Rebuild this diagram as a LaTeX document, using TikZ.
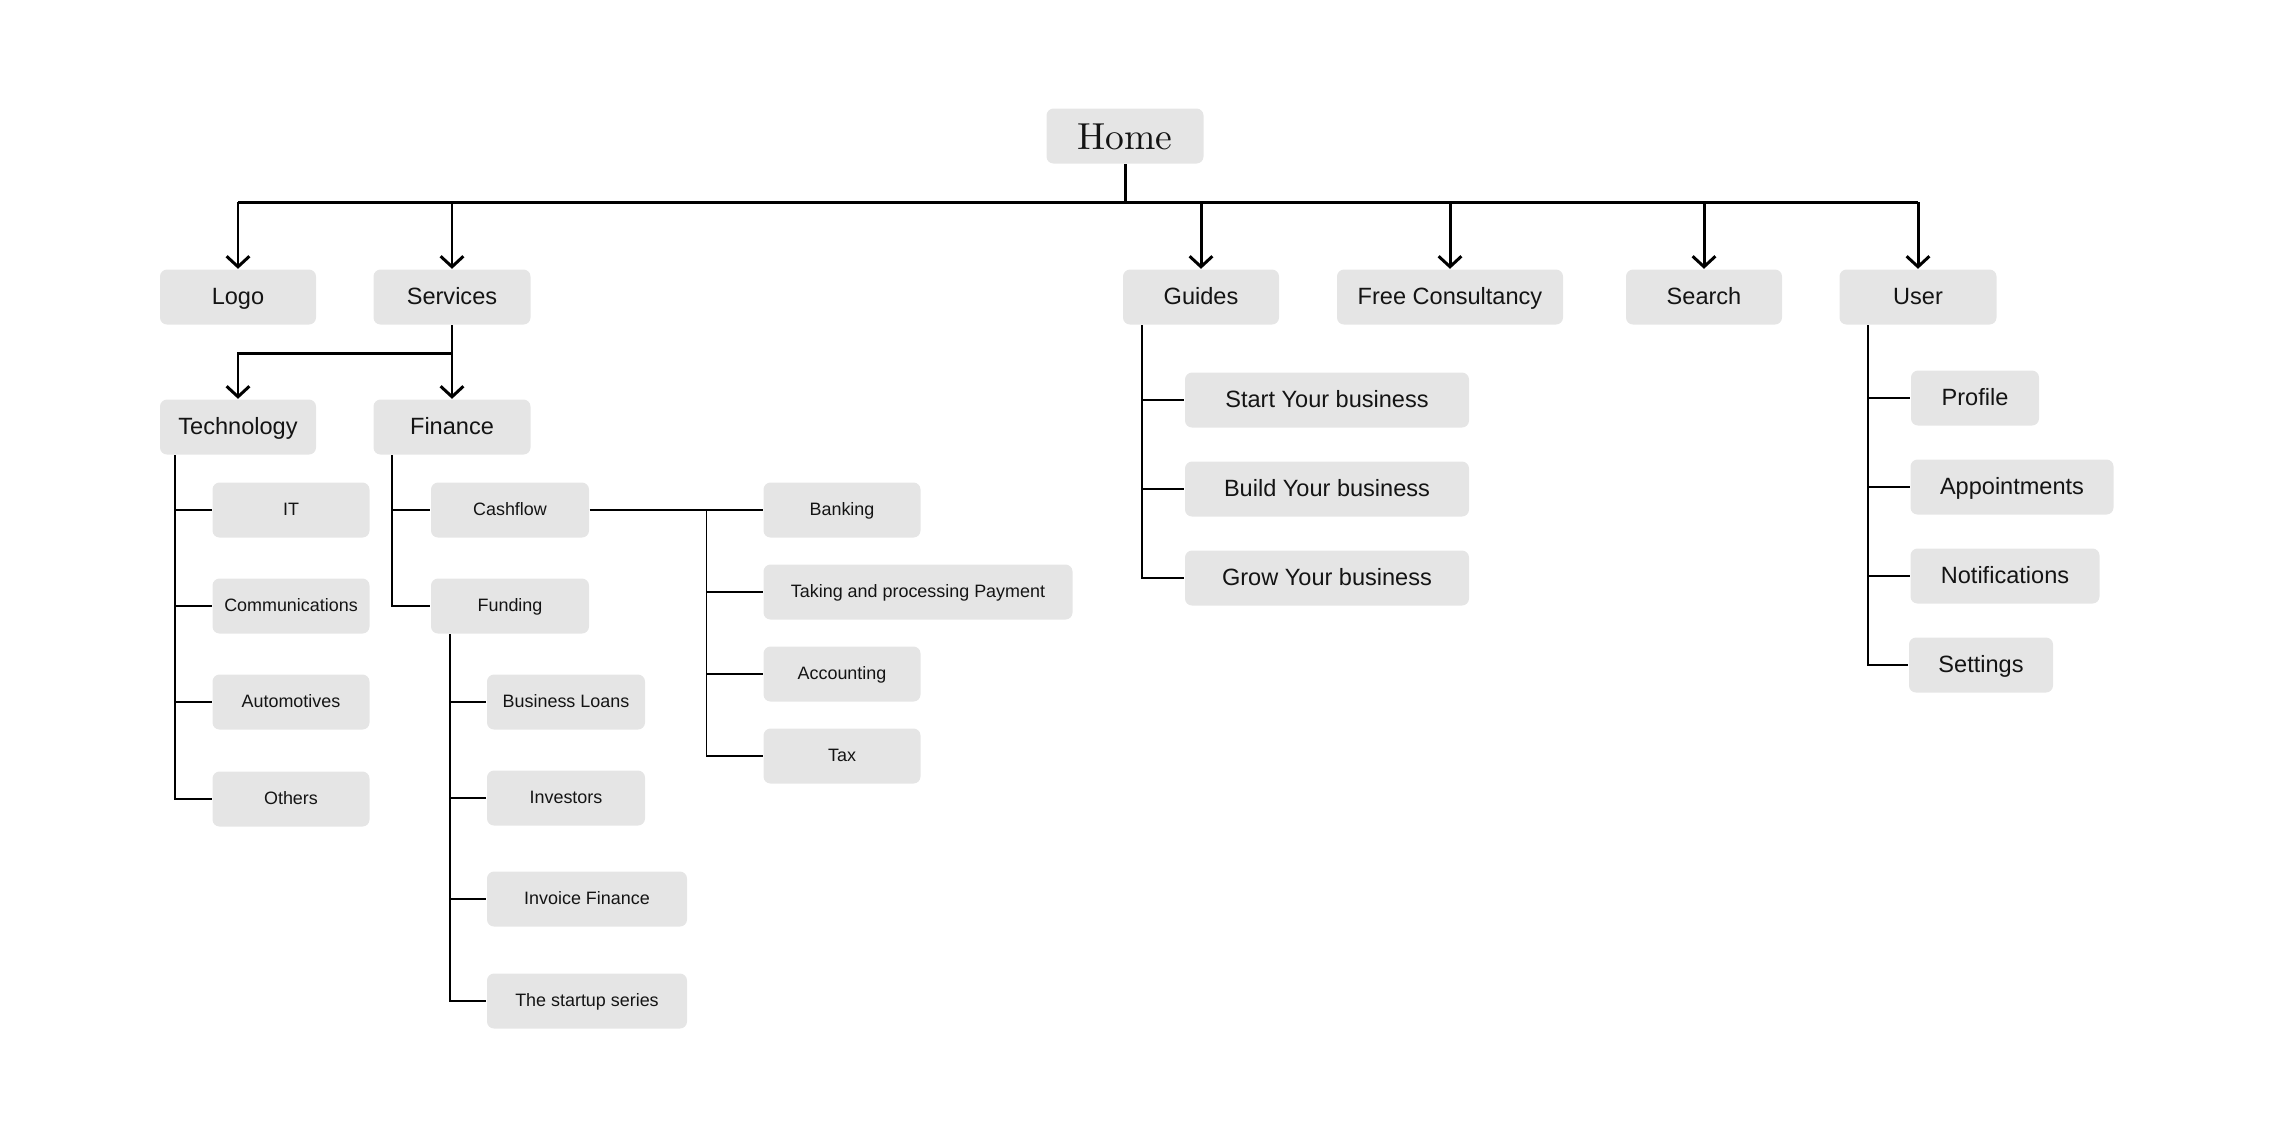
\documentclass[tikz,border=0pt]{standalone}
\usepackage{fontspec}
\setsansfont{Liberation Sans}
\usepackage{tikz}
\usetikzlibrary{arrows.meta}
\definecolor{boxgray}{RGB}{229,229,229}
\definecolor{ink}{RGB}{20,20,20}

\begin{document}
\begin{tikzpicture}[x=0.1mm,y=-0.1mm,
	box/.style={rectangle,rounded corners=0.7mm,fill=boxgray,text=ink,font=\sffamily\fontsize{6.7}{8}\selectfont,minimum height=5.5mm,inner sep=0pt,text height=5.7pt,text depth=1.2pt},
	small/.style={box,font=\sffamily\fontsize{5.1}{6}\selectfont,text height=4.3pt,text depth=0.9pt},
	trunk/.style={line width=0.85pt,draw=black},
	branch/.style={line width=0.4pt,draw=black},
	>={Straight Barb[length=3pt,width=6.5pt]}]
	\useasboundingbox (0,0) rectangle (2274,1138);
	% Knoten
		\node (home) at (1125,136) [box,minimum width=15.7mm,font=\rmfamily\fontsize{10.7}{12}\selectfont,text height=7.6pt,text depth=0pt] {Home};
		\node (logo) at (238,297) [box,minimum width=15.6mm] {Logo};
		\node (services) at (452,297) [box,minimum width=15.7mm] {Services};
		\node (guides) at (1201,297) [box,minimum width=15.6mm] {Guides};
		\node (consult) at (1450,297) [box,minimum width=22.6mm] {Free Consultancy};
		\node (search) at (1704,297) [box,minimum width=15.6mm] {Search};
		\node (user) at (1918,297) [box,minimum width=15.7mm] {User};
		\node (technology) at (238,427) [box,minimum width=15.6mm] {Technology};
		\node (finance) at (452,427) [box,minimum width=15.7mm] {Finance};
	% Technology
		\node (it) at (291,510) [small,minimum width=15.7mm] {IT};
		\node (comms) at (291,606) [small,minimum width=15.7mm] {Communications};
		\node (autos) at (291,702) [small,minimum width=15.7mm] {Automotives};
		\node (others) at (291,799) [small,minimum width=15.7mm] {Others};
	% Finance
		\node (cashflow) at (510,510) [small,minimum width=15.8mm] {Cashflow};
		\node (funding) at (510,606) [small,minimum width=15.8mm] {Funding};
		\node (loans) at (566,702) [small,minimum width=15.8mm] {Business Loans};
		\node (investors) at (566,798) [small,minimum width=15.8mm] {Investors};
		\node (invoice) at (587,899) [small,minimum width=20mm] {Invoice Finance};
		\node (startup) at (587,1001) [small,minimum width=20mm] {The startup series};
		\node (banking) at (842,510) [small,minimum width=15.7mm] {Banking};
		\node (payment) at (918,592) [small,minimum width=30.9mm] {Taking and processing Payment};
		\node (accounting) at (842,674) [small,minimum width=15.7mm] {Accounting};
		\node (tax) at (842,756) [small,minimum width=15.7mm] {Tax};
	% Guides
		\node (start) at (1327,400) [box,minimum width=28.4mm] {Start Your business};
		\node (build) at (1327,489) [box,minimum width=28.4mm] {Build Your business};
		\node (grow) at (1327,578) [box,minimum width=28.4mm] {Grow Your business};
	% User
		\node (profile) at (1975,398) [box,minimum width=12.8mm] {Profile};
		\node (appoint) at (2012,487) [box,minimum width=20.3mm] {Appointments};
		\node (notify) at (2005,576) [box,minimum width=18.9mm] {Notifications};
		\node (settings) at (1981,665) [box,minimum width=14.4mm] {Settings};
	% Kanten
		\coordinate (bar) at (1125,202);
		\draw[trunk] (home) -- (bar);
		\draw[trunk] (logo |- bar) -- (user |- bar);
		\draw[trunk,->] (logo |- bar) -- (logo);
		\draw[trunk,->] (services |- bar) -- (services);
		\draw[trunk,->] (guides |- bar) -- (guides);
		\draw[trunk,->] (consult |- bar) -- (consult);
		\draw[trunk,->] (search |- bar) -- (search);
		\draw[trunk,->] (user |- bar) -- (user);
		\coordinate (sjoin) at (452,353);
		\draw[trunk,->] (services) -- (finance);
		\draw[trunk,->] (sjoin) -| (technology);
	% Technology
		\coordinate (techtrunk) at ([xshift=-6.3mm]technology.south);
		\draw[branch] (techtrunk) |- (others);
		\draw[branch] (techtrunk |- it) -- (it);
		\draw[branch] (techtrunk |- comms) -- (comms);
		\draw[branch] (techtrunk |- autos) -- (autos);
	% Finance
		\coordinate (fintrunk) at ([xshift=-6mm]finance.south);
		\draw[branch] (fintrunk) |- (funding);
		\draw[branch] (fintrunk |- cashflow) -- (cashflow);
		\coordinate (fundtrunk) at ([xshift=-6mm]funding.south);
		\draw[branch] (fundtrunk) |- (startup);
		\draw[branch] (fundtrunk |- loans) -- (loans);
		\draw[branch] (fundtrunk |- investors) -- (investors);
		\draw[branch] (fundtrunk |- invoice) -- (invoice);
		\coordinate (cashjoint) at ([xshift=11.7mm]cashflow.east);
		\draw[branch] (cashflow) -- (banking);
		\draw[branch] (cashjoint) |- (tax);
		\draw[branch] (cashjoint |- payment) -- (payment);
		\draw[branch] (cashjoint |- accounting) -- (accounting);
	% Guides
		\coordinate (guidetrunk) at ([xshift=-5.9mm]guides.south);
		\draw[branch] (guidetrunk) |- (grow);
		\draw[branch] (guidetrunk |- start) -- (start);
		\draw[branch] (guidetrunk |- build) -- (build);
	% User
		\coordinate (usertrunk) at ([xshift=-5mm]user.south);
		\draw[branch] (usertrunk) |- (settings);
		\draw[branch] (usertrunk |- profile) -- (profile);
		\draw[branch] (usertrunk |- appoint) -- (appoint);
		\draw[branch] (usertrunk |- notify) -- (notify);
\end{tikzpicture}
\end{document}
